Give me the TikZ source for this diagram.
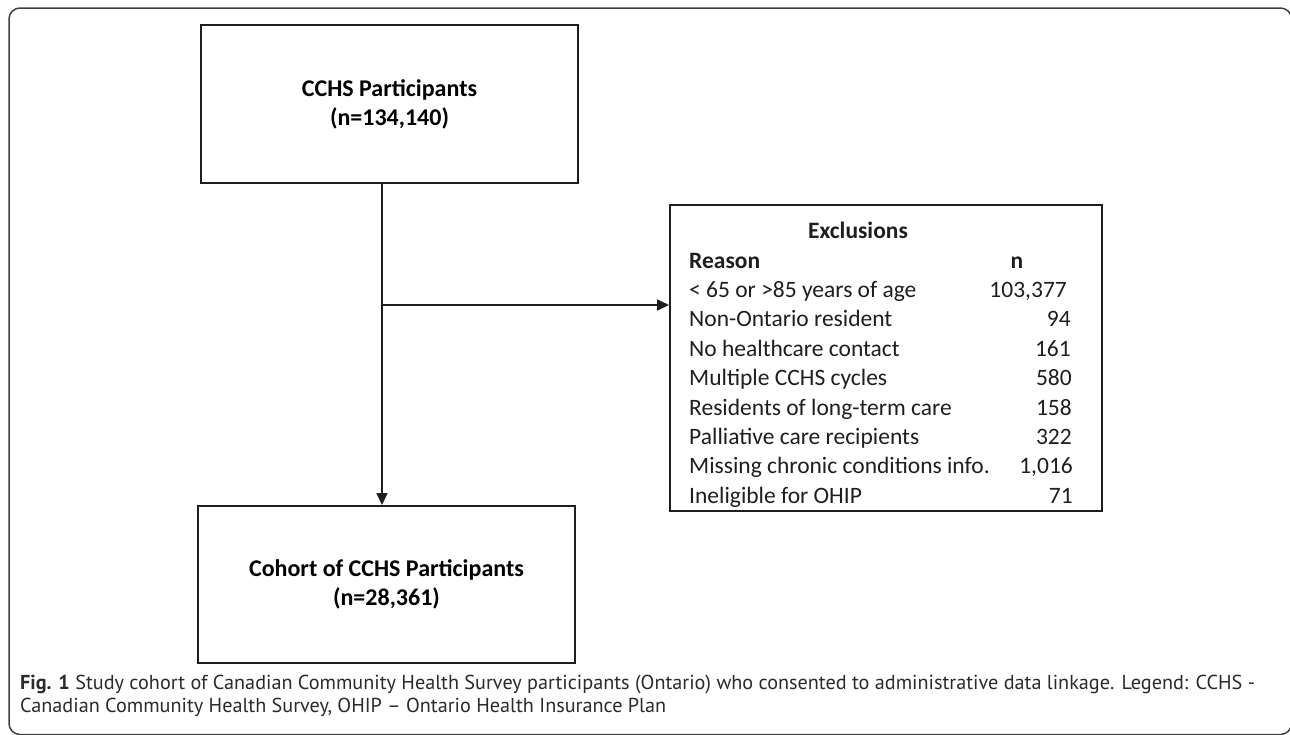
\documentclass[tikz,border=0pt]{standalone}
\usepackage{fontspec}
\setmainfont{Carlito}
\newfontfamily\capfont{PT Sans}
\usetikzlibrary{arrows.meta}
\definecolor{boxline}{HTML}{1E1E1E}
\definecolor{captext}{HTML}{2A2A2A}
\begin{document}
\begin{tikzpicture}[x=1pt,y=-1pt,
  flowbox/.style={draw=boxline, line width=2pt, align=center, inner sep=0pt,
    font=\fontsize{24}{29}\selectfont\bfseries},
  arr/.style={draw=boxline, line width=1.6pt, -{Triangle[width=11pt,length=12pt]}},
  exrow/.style={inner sep=0pt, font=\fontsize{23.5}{28}\selectfont, text=boxline},
  exhead/.style={inner sep=0pt, font=\fontsize{23.5}{28}\selectfont\bfseries, text=boxline},
  caprow/.style={inner sep=0pt, anchor=base west, font=\capfont\fontsize{20.2}{24}\selectfont, text=captext}]
\useasboundingbox (0,0) rectangle (1290,734);
\begin{scope}
\clip (0,0) rectangle (1290,734);
\draw[draw=black!75, line width=1.5pt, rounded corners=11pt] (9,8) rectangle (1291.5,734.5);
\end{scope}

\node[flowbox, minimum width=377pt, minimum height=158pt] (top) at (389.5,104) {CCHS Participants\\(n=134,140)};
\node[flowbox, minimum width=377pt, minimum height=157pt] (cohort) at (386.5,584.5) {Cohort of CCHS Participants\\(n=28,361)};
\node[draw=boxline, line width=2pt, minimum width=432pt, minimum height=306pt, inner sep=0pt] (excl) at (886,358) {};

\node[exhead, anchor=base] (exh) at (858,238) {Exclusions};
\node[exhead, anchor=base west] (rh) at (689,268) {Reason};
\node[exhead, anchor=base] (nh) at (1017,268) {n};

\node[exrow, anchor=base west] (r1) at (689,297.4) {< 65 or >85 years of age};
\node[exrow, anchor=base west] (r2) at (689,326.8) {Non-Ontario resident};
\node[exrow, anchor=base west] (r3) at (689,356.2) {No healthcare contact};
\node[exrow, anchor=base west] (r4) at (689,385.6) {Multiple CCHS cycles};
\node[exrow, anchor=base west] (r5) at (689,415.0) {Residents of long-term care};
\node[exrow, anchor=base west] (r6) at (689,444.4) {Palliative care recipients};
\node[exrow, anchor=base west] (r7) at (689,473.8) {Missing chronic conditions info.};
\node[exrow, anchor=base west] (r8) at (689,503.2) {Ineligible for OHIP};

\node[exrow, anchor=base east] (n1) at (1067,297.4) {103,377};
\node[exrow, anchor=base east] (n2) at (1071,326.8) {94};
\node[exrow, anchor=base east] (n3) at (1071,356.2) {161};
\node[exrow, anchor=base east] (n4) at (1072,385.6) {580};
\node[exrow, anchor=base east] (n5) at (1072,415.0) {158};
\node[exrow, anchor=base east] (n6) at (1072,444.4) {322};
\node[exrow, anchor=base east] (n7) at (1073,473.8) {1,016};
\node[exrow, anchor=base east] (n8) at (1073,503.2) {71};

\coordinate (vx) at (382,0);
\coordinate (hx) at (383,305);
\draw[arr] (top.south -| vx) -- (cohort.north -| vx);
\draw[arr] (hx) -- (hx -| excl.west);

\node[caprow] (cap1) at (20,689) {\textbf{Fig. 1} Study cohort of Canadian Community Health Survey participants (Ontario) who consented to administrative data linkage. Legend: CCHS -};
\node[caprow] (cap2) at (20,712) {Canadian Community Health Survey, OHIP – Ontario Health Insurance Plan};
\end{tikzpicture}
\end{document}
